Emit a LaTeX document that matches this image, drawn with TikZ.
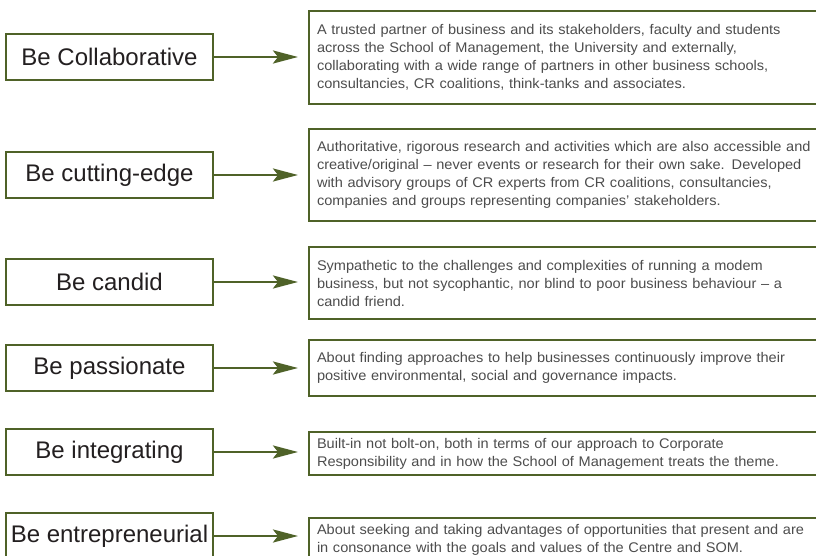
\documentclass[tikz,border=0pt]{standalone}
\usepackage{fontspec}
\setmainfont{Liberation Sans}
\newfontfamily\descfont[FakeStretch=1.04]{Liberation Sans}
\usetikzlibrary{arrows.meta}
\definecolor{boxgreen}{HTML}{4F6228}
\definecolor{labelblack}{HTML}{231F20}
\definecolor{descgray}{HTML}{4D4D4D}
\begin{document}
\begin{tikzpicture}[x=1pt,y=-1pt]
		\tikzstyle value_box=[draw=boxgreen,line width=2.5pt,minimum width=207pt,minimum height=46pt,inner sep=0pt,text=labelblack,font=\fontsize{24}{29}\selectfont];
		\tikzstyle desc_box=[draw=boxgreen,line width=2pt,anchor=north west,text width=540pt,inner xsep=8pt,inner ysep=0pt,align=left,text=descgray,font=\descfont\fontsize{14}{18}\selectfont];
		\tikzstyle arrow_style=[draw=boxgreen,line width=2.5pt,-{Stealth[length=25pt,width=13pt,inset=5pt]},shorten >=10pt];

		% PAGE SIZE
		\useasboundingbox (0,0) rectangle (816,556);
		\fill[white] (0,0) rectangle (816,556);
		\clip (0,0) rectangle (816,556);

		%LEFT BOXES (the values)
		\node[value_box] (collab) at (109.5,57) {Be Collaborative};
		\node[value_box] (cutting) at (109.5,175) {Be cutting-edge};
		\node[value_box] (candid) at (109.5,282) {Be candid};
		\node[value_box] (passion) at (109.5,368) {Be passionate};
		\node[value_box] (integr) at (109.5,452) {Be integrating};
		\node[value_box] (entre) at (109.5,536) {Be entrepreneurial};

		%RIGHT BOXES (what they mean)
		\node[desc_box,minimum height=93pt] (trust) at (308,10)
			{A trusted partner of business and its stakeholders, faculty and students\\
			across the School of Management, the University and externally,\\
			collaborating with a wide range of partners in other business schools,\\
			consultancies, CR coalitions, think-tanks and associates.};
		\node[desc_box,minimum height=92pt] (rigour) at (308,128)
			{Authoritative, rigorous research and activities which are also accessible and\\
			creative/original – never events or research for their own sake. Developed\\
			with advisory groups of CR experts from CR coalitions, consultancies,\\
			companies and groups representing companies’ stakeholders.};
		\node[desc_box,minimum height=72pt] (sympathy) at (308,246)
			{Sympathetic to the challenges and complexities of running a modem\\
			business, but not sycophantic, nor blind to poor business behaviour – a\\
			candid friend.};
		\node[desc_box,minimum height=56pt] (approach) at (308,339)
			{About finding approaches to help businesses continuously improve their\\
			positive environmental, social and governance impacts.};
		\node[desc_box,minimum height=43pt] (builtin) at (308,431)
			{Built-in not bolt-on, both in terms of our approach to Corporate\\
			Responsibility and in how the School of Management treats the theme.};
		\node[desc_box,minimum height=44pt] (seeking) at (308,517)
			{About seeking and taking advantages of opportunities that present and are\\
			in consonance with the goals and values of the Centre and SOM.};

		%ARROWS
		\foreach \from/\to in {collab/trust,cutting/rigour,candid/sympathy,passion/approach,integr/builtin,entre/seeking}
			\draw[arrow_style] (\from.east) -- (\from.east -| \to.west);
\end{tikzpicture}
\end{document}
